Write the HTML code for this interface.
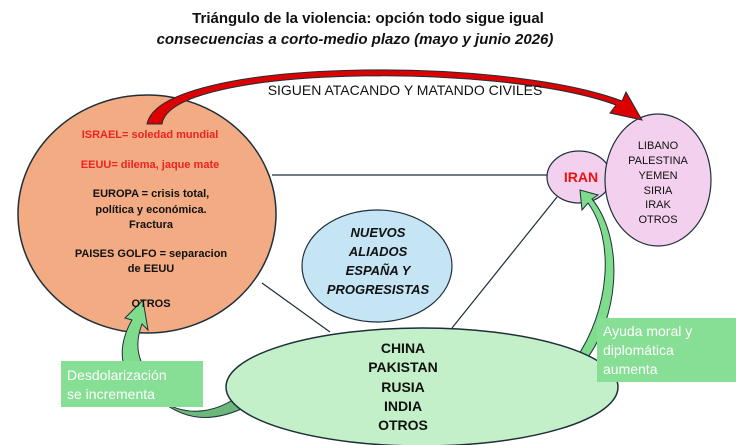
<!DOCTYPE html>
<html><head><meta charset="utf-8"><style>
body{margin:0;width:736px;height:445px;background:#fff;overflow:hidden;font-family:"Liberation Sans",sans-serif}
svg{position:absolute;left:0;top:0}
</style></head><body>
<svg width="736" height="445" viewBox="0 0 736 445">
<g font-family="Liberation Sans, sans-serif">
<text x="368" y="23" text-anchor="middle" font-size="15" font-weight="bold" fill="#111">Triángulo de la violencia: opción todo sigue igual</text>
<text x="355" y="44" text-anchor="middle" font-size="15" font-weight="bold" font-style="italic" fill="#111">consecuencias a corto-medio plazo (mayo y junio 2026)</text>

<line x1="272" y1="175" x2="548" y2="175" stroke="#1f2f3a" stroke-width="1.2"/>
<line x1="262" y1="283" x2="330" y2="332" stroke="#1f2f3a" stroke-width="1.2"/>
<line x1="452" y1="328" x2="557" y2="197" stroke="#1f2f3a" stroke-width="1.2"/>

<ellipse cx="147" cy="214" rx="129" ry="119" fill="#f2ab83" stroke="#1f2f3a" stroke-width="1.5"/>
<ellipse cx="579" cy="177" rx="32" ry="26" fill="#f2d0ee" stroke="#1f2f3a" stroke-width="1.2"/>
<ellipse cx="658" cy="180" rx="53" ry="66" fill="#f2d0ee" stroke="#1f2f3a" stroke-width="1.2"/>
<ellipse cx="377" cy="266" rx="75" ry="56" fill="#c5e5f5" stroke="#1f2f3a" stroke-width="1.2"/>

<path d="M160,400 C110,380 120,340 132,320 L125,318 L143,300 L148,330 L142,324 C132,350 140,375 170,390 Z" fill="#7fdc8c" stroke="#1f2f3a" stroke-width="1"/>
<path d="M160,400 C190,420 220,410 240,395 L250,405 C220,420 190,425 160,400 Z" fill="#6ab87a" stroke="#1f2f3a" stroke-width="1"/>
<path d="M575,360 C610,310 615,240 588,203 L582,210 L580,190 L598,195 L592,199 C625,240 620,320 582,365 Z" fill="#7fdc8c" stroke="#1f2f3a" stroke-width="1"/>

<ellipse cx="422" cy="387" rx="196" ry="59" fill="#c3f0c8" stroke="#1f2f3a" stroke-width="1.5"/>

<path d="M147,124 C160,58 500,55 622,101 L626,92 L642,120 L610,113 L616,105 C500,62 170,65 162,124 Z" fill="#dd0000" stroke="#1f2f3a" stroke-width="1"/>
<text x="405" y="95" text-anchor="middle" font-size="14" fill="#111">SIGUEN ATACANDO Y MATANDO CIVILES</text>

<g font-size="11" font-weight="bold" text-anchor="middle">
<text x="150" y="138" fill="#ee2222">ISRAEL= soledad mundial</text>
<text x="150" y="168" fill="#ee2222">EEUU= dilema, jaque mate</text>
<text x="151" y="197" fill="#111">EUROPA = crisis total,</text>
<text x="151" y="213" fill="#111">política y económica.</text>
<text x="151" y="228" fill="#111">Fractura</text>
<text x="151" y="257" fill="#111">PAISES GOLFO = separacion</text>
<text x="151" y="272" fill="#111">de EEUU</text>
<text x="151" y="307" fill="#111">OTROS</text>
</g>
<text x="581" y="182" text-anchor="middle" font-size="14" font-weight="bold" fill="#ee1111">IRAN</text>
<g font-size="11" text-anchor="middle" fill="#111">
<text x="658" y="149">LIBANO</text>
<text x="658" y="164">PALESTINA</text>
<text x="658" y="179">YEMEN</text>
<text x="658" y="194">SIRIA</text>
<text x="658" y="208">IRAK</text>
<text x="658" y="223">OTROS</text>
</g>
<g font-size="13" font-weight="bold" font-style="italic" text-anchor="middle" fill="#111">
<text x="378" y="237">NUEVOS</text>
<text x="378" y="256">ALIADOS</text>
<text x="378" y="275">ESPAÑA Y</text>
<text x="378" y="294">PROGRESISTAS</text>
</g>
<g font-size="14" font-weight="bold" text-anchor="middle" fill="#111">
<text x="403" y="353">CHINA</text>
<text x="403" y="372">PAKISTAN</text>
<text x="403" y="392">RUSIA</text>
<text x="403" y="411">INDIA</text>
<text x="403" y="430">OTROS</text>
</g>
<rect x="61" y="361" width="142" height="46" fill="#86df94"/>
<text x="67" y="380" font-size="14" fill="#fff">Desdolarización</text>
<text x="67" y="399" font-size="14" fill="#fff">se incrementa</text>
<rect x="597" y="318" width="139" height="64" fill="#86df94"/>
<text x="603" y="336" font-size="14" fill="#fff">Ayuda moral y</text>
<text x="603" y="355" font-size="14" fill="#fff">diplomática</text>
<text x="603" y="374" font-size="14" fill="#fff">aumenta</text>
</g>
</svg>
</body></html>
